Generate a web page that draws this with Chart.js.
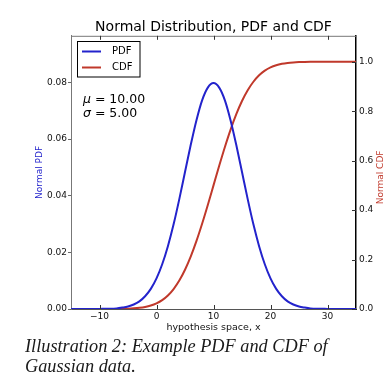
<!DOCTYPE html>
<html>
<head>
<meta charset="utf-8">
<script src="https://cdn.jsdelivr.net/npm/chart.js@4.4.1/dist/chart.umd.min.js"></script>
<style>
  html, body { margin: 0; padding: 0; background: #fff; }
  #wrap { position: relative; width: 390px; height: 379px; }
  #caption {
    position: absolute; left: 25px; top: 336px;
    font: italic 18.3px/20px "Liberation Serif", serif; color: #1a1a1a;
    white-space: nowrap;
  }
</style>
</head>
<body>
<div id="wrap">
  <canvas id="chart" width="390" height="379"></canvas>
  <div id="caption">Illustration 2: Example PDF and CDF of<br>Gaussian data.</div>
</div>
<script>
// x samples, -15 .. 35
const xValues = [-15, -14, -13, -12, -11, -10, -9, -8, -7, -6, -5, -4, -3, -2, -1,
  0, 1, 2, 3, 4, 5, 6, 7, 8, 9, 10, 11, 12, 13, 14, 15, 16, 17, 18, 19, 20,
  21, 22, 23, 24, 25, 26, 27, 28, 29, 30, 31, 32, 33, 34, 35];

// values
const pdfValues = [0, 0, 0, 0, 0, 0, 0.0001, 0.0001, 0.0002, 0.0005, 0.0009, 0.0016, 0.0027, 0.0045, 0.0071,
  0.0108, 0.0158, 0.0222, 0.0299, 0.0388, 0.0484, 0.0579, 0.0666, 0.0737, 0.0782, 0.0798,
  0.0782, 0.0737, 0.0666, 0.0579, 0.0484, 0.0388, 0.0299, 0.0222, 0.0158, 0.0108,
  0.0071, 0.0045, 0.0027, 0.0016, 0.0009, 0.0005, 0.0002, 0.0001, 0.0001, 0, 0, 0, 0, 0, 0];

const cdfValues = [0, 0, 0, 0, 0, 0, 0.0001, 0.0002, 0.0003, 0.0007, 0.0013, 0.0026, 0.0047, 0.0082, 0.0139,
  0.0228, 0.0359, 0.0548, 0.0808, 0.1151, 0.1587, 0.2119, 0.2743, 0.3446, 0.4207, 0.5,
  0.5793, 0.6554, 0.7257, 0.7881, 0.8413, 0.8849, 0.9192, 0.9452, 0.9641, 0.9772,
  0.9861, 0.9918, 0.9953, 0.9974, 0.9987, 0.9994, 0.9997, 0.9998, 0.9999, 1, 1, 1, 1, 1, 1];

const xTicks = [-10, 0, 10, 20, 30];
const pdfTicks = [0, 0.02, 0.04, 0.06, 0.08];
const cdfTicks = [0, 0.2, 0.4, 0.6, 0.8, 1.0];

const statsLines = [['\u03bc', ' = 10.00'], ['\u03c3', ' = 5.00']];

const PDF_COLOR = '#2323cc';
const CDF_COLOR = '#c0392b';
const FONT = '"DejaVu Sans", sans-serif';

Chart.defaults.font.family = FONT;
Chart.defaults.color = '#111';

const toPoints = ys => xValues.map((x, i) => ({ x: x, y: ys[i] }));

// legend box, stats text, top spine, inward ticks, right title
const decorations = {
  id: 'decorations',
  afterDraw(chart) {
    const { ctx, chartArea: a, scales } = chart;
    const line = (x1, y1, x2, y2) => {
      ctx.beginPath(); ctx.moveTo(x1, y1); ctx.lineTo(x2, y2); ctx.stroke();
    };
    ctx.save();

    // top spine
    ctx.strokeStyle = '#777';
    ctx.lineWidth = 1;
    line(a.left, a.top + 0.5, a.right, a.top + 0.5);

    // inward ticks (top, bottom, right)
    ctx.strokeStyle = '#333';
    xTicks.forEach(v => {
      const px = Math.round(scales.x.getPixelForValue(v)) + 0.5;
      line(px, a.top, px, a.top + 4);
      line(px, a.bottom, px, a.bottom - 4);
    });
    cdfTicks.forEach(v => {
      const py = Math.round(scales.cdf.getPixelForValue(v)) + 0.5;
      line(a.right, py, a.right - 4, py);
    });

    // right axis title, reading bottom to top
    ctx.save();
    ctx.translate(381, (a.top + a.bottom) / 2 + 5);
    ctx.rotate(-Math.PI / 2);
    ctx.fillStyle = CDF_COLOR;
    ctx.font = '9px ' + FONT;
    ctx.textAlign = 'center';
    ctx.textBaseline = 'middle';
    ctx.fillText('Normal CDF', 0, 0);
    ctx.restore();

    // legend
    ctx.fillStyle = '#fff';
    ctx.fillRect(77.5, 41.5, 62.5, 35.5);
    ctx.strokeStyle = '#000';
    ctx.lineWidth = 1;
    ctx.strokeRect(77.5, 41.5, 62.5, 35.5);
    ctx.font = '10px ' + FONT;
    ctx.textBaseline = 'middle';
    ctx.textAlign = 'left';
    chart.data.datasets.forEach((ds, i) => {
      const y = 51.5 + i * 16;
      ctx.strokeStyle = ds.borderColor;
      ctx.lineWidth = 2;
      line(82, y, 101, y);
      ctx.fillStyle = '#000';
      ctx.fillText(ds.label, 112, y);
    });

    // mu / sigma
    ctx.fillStyle = '#000';
    ctx.textBaseline = 'alphabetic';
    statsLines.forEach((parts, i) => {
      const y = 103 + i * 13.5;
      ctx.font = 'italic 12.5px ' + FONT;
      ctx.fillText(parts[0], 83, y);
      const w = ctx.measureText(parts[0]).width;
      ctx.font = '12.5px ' + FONT;
      ctx.fillText(parts[1], 83 + w, y);
    });

    ctx.restore();
  }
};

const keepTicks = values => scale => {
  scale.ticks = values.map(v => ({ value: v }));
};

new Chart(document.getElementById('chart'), {
  type: 'line',
  data: {
    datasets: [
      {
        label: 'PDF',
        data: toPoints(pdfValues),
        yAxisID: 'pdf',
        borderColor: PDF_COLOR,
        borderWidth: 2,
        pointRadius: 0,
        cubicInterpolationMode: 'monotone',
        fill: false,
      },
      {
        label: 'CDF',
        data: toPoints(cdfValues),
        yAxisID: 'cdf',
        borderColor: CDF_COLOR,
        borderWidth: 2,
        pointRadius: 0,
        cubicInterpolationMode: 'monotone',
        fill: false,
      },
    ],
  },
  options: {
    responsive: false,
    animation: false,
    events: [],
    layout: { padding: 0 },
    scales: {
      x: {
        type: 'linear',
        min: -15,
        max: 35,
        afterBuildTicks: keepTicks(xTicks),
        afterFit: s => { s.height = 70; },
        grid: { display: false, drawTicks: false },
        border: { display: true, color: '#555', width: 1 },
        ticks: {
          padding: 2,
          font: { size: 9 },
          color: '#111',
          maxRotation: 0,
          callback: v => (v < 0 ? '\u2212' + Math.abs(v) : String(v)),
        },
        title: {
          display: true,
          text: 'hypothesis space, x',
          font: { size: 9.5 },
          color: '#111',
          padding: { top: 0, bottom: 46 },
        },
      },
      pdf: {
        type: 'linear',
        position: 'left',
        min: 0,
        max: 0.0965,
        afterBuildTicks: keepTicks(pdfTicks),
        afterFit: s => { s.width = 71; },
        grid: { display: true, drawOnChartArea: false, drawTicks: true, tickLength: 3, color: '#666' },
        border: { display: true, color: '#777', width: 1 },
        ticks: {
          padding: 1,
          font: { size: 9 },
          color: '#111',
          callback: v => v.toFixed(2),
        },
        title: {
          display: true,
          text: 'Normal PDF',
          color: PDF_COLOR,
          font: { size: 9 },
          padding: { top: 34.6, bottom: 0 },
        },
      },
      cdf: {
        type: 'linear',
        position: 'right',
        min: 0,
        max: 1.105,
        afterBuildTicks: keepTicks(cdfTicks),
        afterFit: s => { s.width = 34; },
        grid: { display: false, drawTicks: false },
        border: { display: true, color: '#000', width: 1.5 },
        ticks: {
          padding: 3,
          font: { size: 9 },
          color: '#111',
          callback: v => v.toFixed(1),
        },
      },
    },
    plugins: {
      legend: { display: false },
      tooltip: { enabled: false },
      title: {
        display: true,
        text: 'Normal Distribution, PDF and CDF',
        fullSize: false,
        color: '#000',
        font: { size: 14, weight: 'normal' },
        padding: { top: 19, bottom: 0 },
      },
    },
  },
  plugins: [decorations],
});
</script>
</body>
</html>
